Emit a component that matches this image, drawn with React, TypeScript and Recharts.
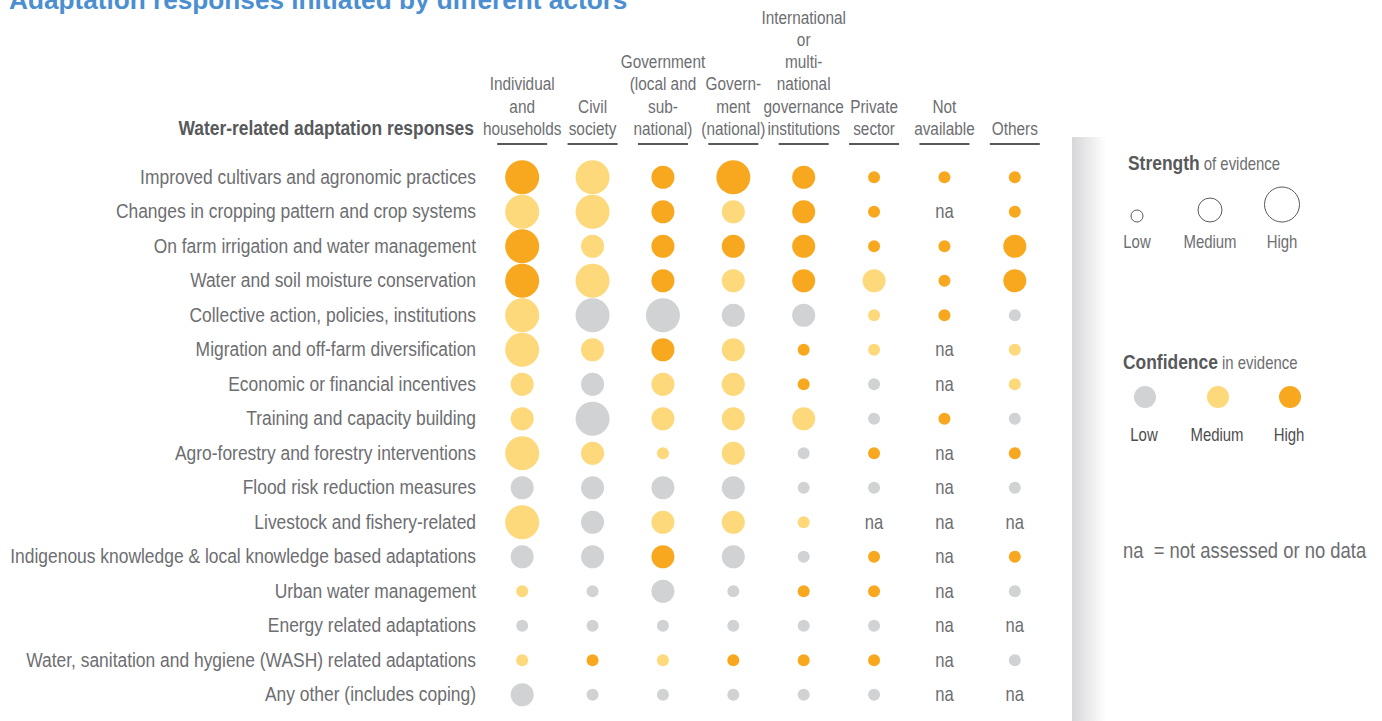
import { ScatterChart, Scatter, XAxis, YAxis } from "recharts";

const TEXT = "#6d6e71";
const DARK = "#58595b";
const BLUE = "#4b8fd0";
const FONT = "'Liberation Sans', Arial, sans-serif";
const NARROW = 0.83; // Liberation Sans squeezed to Arial Narrow widths

const TITLE = "Adaptation responses initiated by different actors";
const ROW_HEADER = "Water-related adaptation responses";

const ACTORS = [
  ["Individual", "and", "households"],
  ["Civil", "society"],
  ["Government", "(local and", "sub-", "national)"],
  ["Govern-", "ment", "(national)"],
  ["International", "or", "multi-", "national", "governance", "institutions"],
  ["Private", "sector"],
  ["Not", "available"],
  ["Others"],
];

const RESPONSES = [
  "Improved cultivars and agronomic practices",
  "Changes in cropping pattern and crop systems",
  "On farm irrigation and water management",
  "Water and soil moisture conservation",
  "Collective action, policies, institutions",
  "Migration and off-farm diversification",
  "Economic or financial incentives",
  "Training and capacity building",
  "Agro-forestry and forestry interventions",
  "Flood risk reduction measures",
  "Livestock and fishery-related",
  "Indigenous knowledge & local knowledge based adaptations",
  "Urban water management",
  "Energy related adaptations",
  "Water, sanitation and hygiene (WASH) related adaptations",
  "Any other (includes coping)",
];

// strength of evidence: 1 low, 2 medium, 3 high, 0 = na
const STRENGTH = [
  [3, 3, 2, 3, 2, 1, 1, 1],
  [3, 3, 2, 2, 2, 1, 0, 1],
  [3, 2, 2, 2, 2, 1, 1, 2],
  [3, 3, 2, 2, 2, 2, 1, 2],
  [3, 3, 3, 2, 2, 1, 1, 1],
  [3, 2, 2, 2, 1, 1, 0, 1],
  [2, 2, 2, 2, 1, 1, 0, 1],
  [2, 3, 2, 2, 2, 1, 1, 1],
  [3, 2, 1, 2, 1, 1, 0, 1],
  [2, 2, 2, 2, 1, 1, 0, 1],
  [3, 2, 2, 2, 1, 0, 0, 0],
  [2, 2, 2, 2, 1, 1, 0, 1],
  [1, 1, 2, 1, 1, 1, 0, 1],
  [1, 1, 1, 1, 1, 1, 0, 0],
  [1, 1, 1, 1, 1, 1, 0, 1],
  [2, 1, 1, 1, 1, 1, 0, 0],
];

// confidence in evidence: L / M / H, "-" = na
const CONFIDENCE = [
  "HMHHHHHH",
  "MMHMHH-H",
  "HMHHHHHH",
  "HMHMHMHH",
  "MLLLLMHL",
  "MMHMHM-M",
  "MLMMHL-M",
  "MLMMMLHL",
  "MMMMLH-H",
  "LLLLLL-L",
  "MLMMM---",
  "LLHLLH-H",
  "MLLLHH-L",
  "LLLLLL--",
  "MHMHHH-L",
  "LLLLLL--",
];

const CONF_COLOR: Record<string, string> = { L: "#d1d2d4", M: "#fdd97c", H: "#f8a81f" };
const RADIUS = [0, 6, 11.5, 17];

const points = STRENGTH.flatMap((row, r) =>
  row.map((s, c) => ({ x: c, y: r, s, conf: CONFIDENCE[r][c] }))
);

// narrow text: regular font squeezed horizontally
function NText({ x, y, size, anchor = "start", weight = 400, fill = TEXT, children }: any) {
  return (
    <g transform={`translate(${x},${y}) scale(${NARROW},1)`}>
      <text x={0} y={0} textAnchor={anchor} fontSize={size} fontWeight={weight} fill={fill} fontFamily={FONT} style={{ whiteSpace: "pre" }}>
        {children}
      </text>
    </g>
  );
}

function ActorTick({ x, y, payload }: any) {
  const lines = ACTORS[payload.value] ?? [];
  const n = lines.length;
  return (
    <g>
      {lines.map((ln, i) => (
        <NText key={i} x={x} y={y - 25 - (n - 1 - i) * 22.3} size={18.5} anchor="middle">
          {ln}
        </NText>
      ))}
      <line x1={x - 25} x2={x + 25} y1={y - 16} y2={y - 16} stroke={DARK} strokeWidth={2} />
    </g>
  );
}

function ResponseTick({ x, y, payload }: any) {
  return (
    <NText x={x - 11} y={y + 6.5} size={21} anchor="end">
      {RESPONSES[payload.value]}
    </NText>
  );
}

function Dot(props: any) {
  const { cx, cy, payload } = props;
  if (!payload.s) {
    return (
      <NText x={cx} y={cy + 6.5} size={20} anchor="middle">
        na
      </NText>
    );
  }
  return <circle cx={cx} cy={cy} r={RADIUS[payload.s]} fill={CONF_COLOR[payload.conf]} />;
}

const STRENGTH_LEGEND = [
  { label: "Low", r: 6, x: 1137 },
  { label: "Medium", r: 12, x: 1210 },
  { label: "High", r: 17.5, x: 1282 },
];
const CONF_LEGEND = [
  { label: "Low", key: "L", x: 1145 },
  { label: "Medium", key: "M", x: 1218 },
  { label: "High", key: "H", x: 1290 },
];

export default function App() {
  return (
    <div style={{ position: "absolute", left: 0, top: 0, width: 1382, height: 721, background: "#fff", overflow: "hidden" }}>
      {/* shadow band at the left of the legend */}
      <div style={{ position: "absolute", left: 1072, top: 137, width: 34, height: 584, background: "linear-gradient(to right, #d6d6d8, #ffffff)" }} />
      <ScatterChart width={1382} height={721} margin={{ top: 0, right: 332, bottom: 9, left: 0 }} style={{ position: "absolute", left: 0, top: 0 }}>
        <XAxis
          dataKey="x"
          type="number"
          orientation="top"
          domain={[-0.5, 7.5]}
          ticks={[0, 1, 2, 3, 4, 5, 6, 7]}
          interval={0}
          height={160}
          axisLine={false}
          tickLine={false}
          tickSize={0}
          tickMargin={0}
          tick={<ActorTick />}
        />
        <YAxis
          dataKey="y"
          type="number"
          domain={[-0.5, 15.5]}
          reversed
          ticks={RESPONSES.map((_, i) => i)}
          interval={0}
          width={487}
          axisLine={false}
          tickLine={false}
          tickSize={0}
          tickMargin={0}
          tick={<ResponseTick />}
        />
        <Scatter data={points} shape={<Dot />} isAnimationActive={false} />
      </ScatterChart>
      <svg width={1382} height={721} style={{ position: "absolute", left: 0, top: 0, pointerEvents: "none" }}>
        <text x={9} y={9} fontSize={26.2} fontWeight={700} fill={BLUE} fontFamily={FONT}>
          {TITLE}
        </text>
        <NText x={474} y={135} size={21} weight={700} anchor="end" fill={DARK}>
          {ROW_HEADER}
        </NText>

        <NText x={1128} y={170} size={21} fill={TEXT}>
          <tspan fontWeight={700} fill={DARK}>Strength</tspan>
          <tspan fontSize={18}> of evidence</tspan>
        </NText>
        {STRENGTH_LEGEND.map((d) => (
          <g key={d.label}>
            <circle cx={d.x} cy={222 - d.r} r={d.r} fill="none" stroke={DARK} strokeWidth={1} />
            <NText x={d.x} y={248} size={18} anchor="middle">
              {d.label}
            </NText>
          </g>
        ))}

        <NText x={1123} y={369} size={21} fill={TEXT}>
          <tspan fontWeight={700} fill={DARK}>Confidence</tspan>
          <tspan fontSize={18}> in evidence</tspan>
        </NText>
        {CONF_LEGEND.map((d) => (
          <g key={d.label}>
            <circle cx={d.x} cy={397} r={11} fill={CONF_COLOR[d.key]} />
            <NText x={d.x - 1} y={441} size={18} anchor="middle" fill="#4d4d4f">
              {d.label}
            </NText>
          </g>
        ))}

        <NText x={1123} y={558} size={22.2}>
          {"na  = not assessed or no data"}
        </NText>
      </svg>
    </div>
  );
}
